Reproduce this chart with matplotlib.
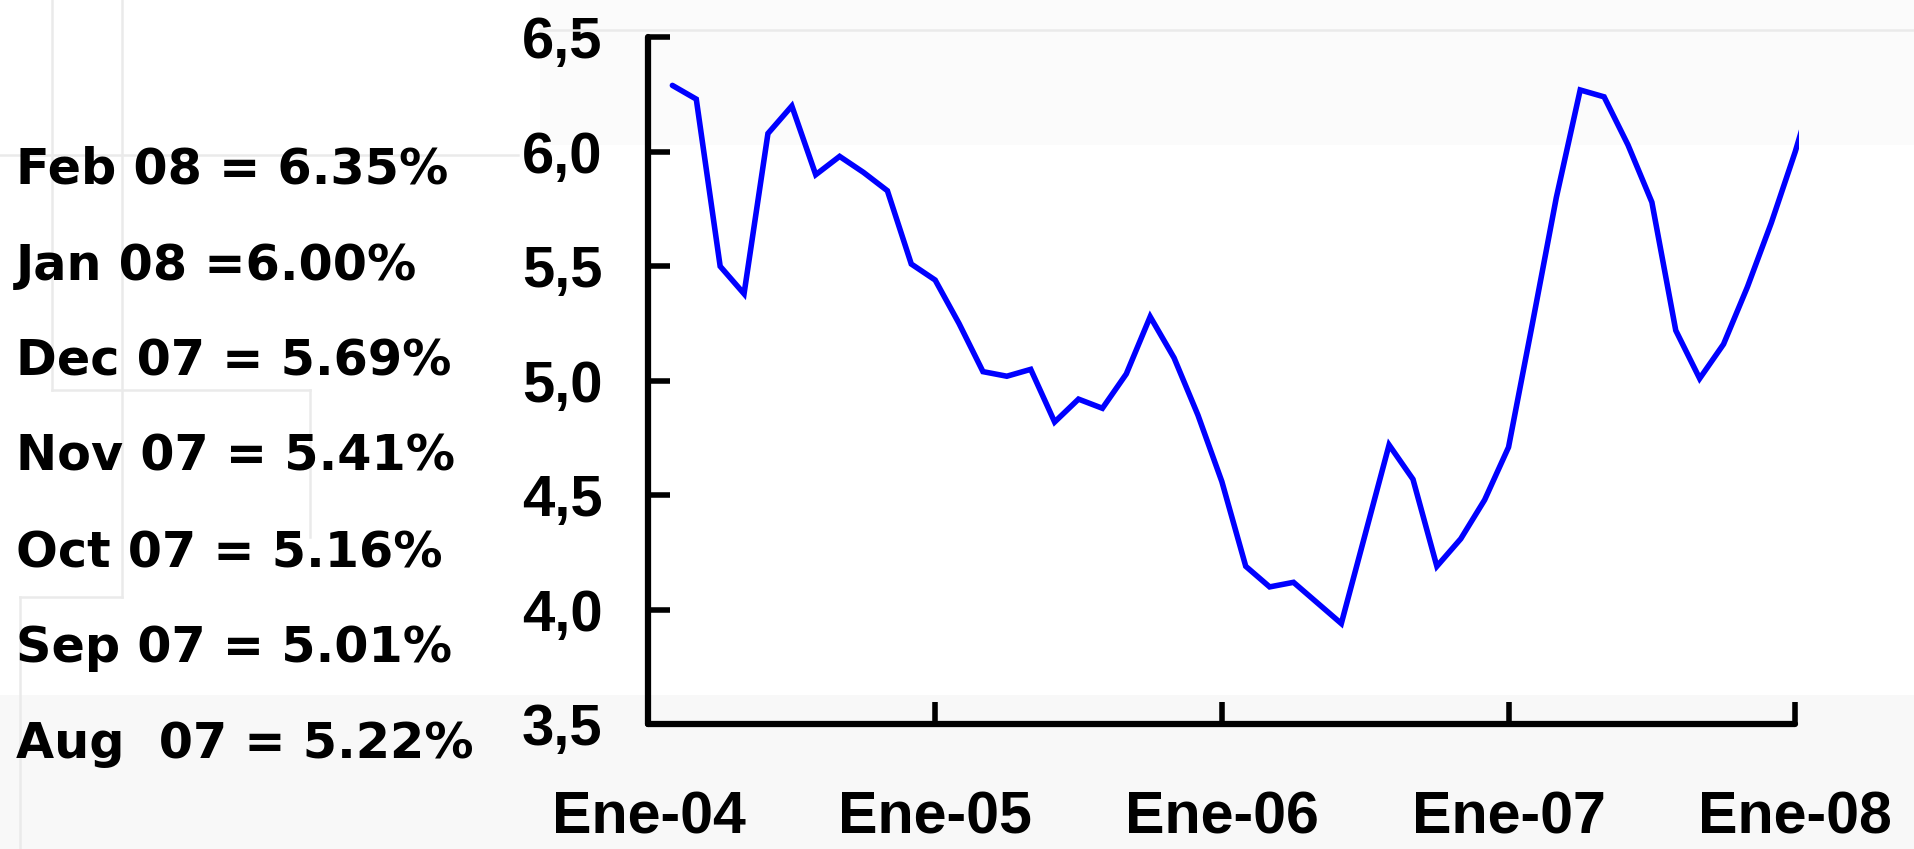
import matplotlib
matplotlib.use("Agg")
import matplotlib.pyplot as plt
from matplotlib.lines import Line2D
from matplotlib.patches import Rectangle

W, H, DPI = 1915, 849, 100

# Monthly rate (%), February 2004 through February 2008
month_index = list(range(1, 50))  # months elapsed since January 2004
rate = [6.29, 6.23, 5.50, 5.38, 6.08, 6.20, 5.90, 5.98, 5.91, 5.83, 5.51, 5.44,
        5.25, 5.04, 5.02, 5.05, 4.82, 4.92, 4.88, 5.03, 5.28, 5.10, 4.85, 4.56,
        4.19, 4.10, 4.12, 4.03, 3.94, 4.33, 4.72, 4.57, 4.19, 4.31, 4.48, 4.71,
        5.25, 5.80, 6.27, 6.24, 6.03, 5.78, 5.22, 5.01, 5.16, 5.41, 5.69, 6.00, 6.35]

year_ticks = [0, 12, 24, 36, 48]
year_labels = ["Ene-04", "Ene-05", "Ene-06", "Ene-07", "Ene-08"]

rate_ticks = [3.5, 4.0, 4.5, 5.0, 5.5, 6.0, 6.5]
rate_labels = ["3,5", "4,0", "4,5", "5,0", "5,5", "6,0", "6,5"]

recent_values = ["Feb 08 = 6.35%", "Jan 08 =6.00%", "Dec 07 = 5.69%",
                 "Nov 07 = 5.41%", "Oct 07 = 5.16%", "Sep 07 = 5.01%",
                 "Aug  07 = 5.22%"]

BOLD_SANS = ["Liberation Sans", "DejaVu Sans"]


def fx(x):
    return x / W


def fy(y):
    return 1 - y / H


fig = plt.figure(figsize=(W / DPI, H / DPI), dpi=DPI, facecolor="white")

# slide template backdrop: pale bands and thin guide lines
fig.add_artist(Rectangle((fx(540), fy(145)), fx(W) - fx(540), fy(0) - fy(145),
                         transform=fig.transFigure, facecolor="#fbfbfb",
                         edgecolor="none", zorder=0))
fig.add_artist(Rectangle((0, 0), 1, fy(695), transform=fig.transFigure,
                         facecolor="#f8f8f8", edgecolor="none", zorder=0))
guides = [((540, 30), (W, 30)),
          ((52, 0), (52, 390)),
          ((122, 0), (122, 597)),
          ((0, 155), (518, 155)),
          ((52, 390), (310, 390)),
          ((310, 390), (310, 537)),
          ((20, 597), (122, 597)),
          ((20, 597), (20, H))]
for (x0, y0), (x1, y1) in guides:
    fig.add_artist(Line2D([fx(x0), fx(x1)], [fy(y0), fy(y1)],
                          transform=fig.transFigure, color="#eaeaea",
                          linewidth=1.8, zorder=0.5))

ax = fig.add_axes([0.33864, 0.14688, 0.60068, 0.80918])
ax.set_facecolor("none")
ax.patch.set_visible(False)

ax.plot(month_index, rate, color="#0000ff", linewidth=4,
        solid_joinstyle="miter", solid_capstyle="round", zorder=3)

ax.set_xlim(0, 48.15)
ax.set_ylim(3.5, 6.5)

for side in ("top", "right"):
    ax.spines[side].set_visible(False)
for side in ("left", "bottom"):
    ax.spines[side].set_linewidth(4.5)
    ax.spines[side].set_color("black")
    ax.spines[side].set_capstyle("round")
ax.spines["bottom"].set_bounds(0, 48)

ax.set_xticks(year_ticks)
ax.set_xticklabels(year_labels, fontfamily=BOLD_SANS, fontweight="bold",
                   fontsize=42.6)
ax.set_yticks(rate_ticks)
ax.set_yticklabels(rate_labels, fontfamily=BOLD_SANS, fontweight="bold",
                   fontsize=41.8)

ax.tick_params(axis="x", direction="in", length=16, width=4, pad=48,
               color="black")
ax.tick_params(axis="y", direction="in", length=16, width=4, pad=33,
               color="black")
for lbl in ax.get_yticklabels():
    lbl.set_verticalalignment("center_baseline")

# latest monthly readings listed beside the chart
baselines = [183, 280, 375, 471, 567, 662, 758]
for text, yb in zip(recent_values, baselines):
    fig.text(fx(16), fy(yb), text, fontfamily="DejaVu Sans",
             fontweight="bold", fontsize=35.5, va="baseline", ha="left",
             color="black")

fig.savefig("out.png", dpi=DPI, facecolor=fig.get_facecolor())
